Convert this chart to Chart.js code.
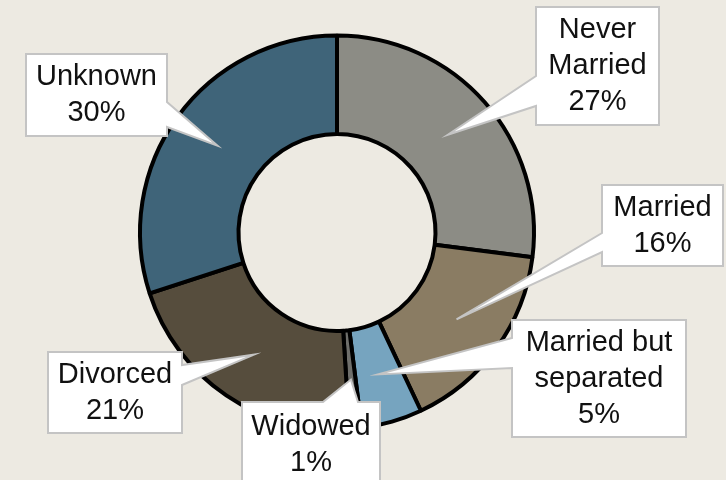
<!DOCTYPE html>
<html>
<head>
<meta charset="utf-8">
<script src="https://cdn.jsdelivr.net/npm/chart.js@4/dist/chart.umd.min.js"></script>
<style>
    html, body { margin: 0; padding: 0; background: #EDEAE2; }
    #wrap { width: 726px; height: 480px; }
</style>
</head>
<body>
<div id="wrap"><canvas id="chart" width="726" height="480"></canvas></div>
<script>
// Marital status breakdown
const categories = ['Never Married', 'Married', 'Married but separated', 'Widowed', 'Divorced', 'Unknown'];
const shares = [27, 16, 5, 1, 21, 30];
const labelLines = [
    ['Never', 'Married', '27%'],
    ['Married', '16%'],
    ['Married but', 'separated', '5%'],
    ['Widowed', '1%'],
    ['Divorced', '21%'],
    ['Unknown', '30%']
];
const sliceColors = ['#8C8C85', '#8A7C63', '#76A4BF', '#6F6F6B', '#564D3D', '#3F6479'];

// callout boxes: [x, y, w, h], side the pointer leaves from, base span along that side
const callouts = [
    { box: [536, 7, 123, 118], side: 'left', base: [76, 106] },
    { box: [602, 185, 121, 81], side: 'left', base: [233, 252] },
    { box: [512, 320, 174, 117], side: 'left', base: [338, 368] },
    { box: [242, 402, 138, 86], side: 'top', base: [323, 358] },
    { box: [48, 352, 134, 81], side: 'right', base: [365, 385] },
    { box: [26, 54, 141, 82], side: 'right', base: [102, 127] }
];

const calloutPlugin = {
    id: 'callouts',
    afterDatasetsDraw(chart) {
        const ctx = chart.ctx;
        const arcs = chart.getDatasetMeta(0).data;
        ctx.save();
        callouts.forEach((c, i) => {
            const tip = arcs[i].tooltipPosition();
            const [x, y, w, h] = c.box;
            const [a, b] = c.base;
            const pts = [];
            pts.push([x, y]);
            if (c.side === 'top') pts.push([a, y], [tip.x, tip.y], [b, y]);
            pts.push([x + w, y]);
            if (c.side === 'right') pts.push([x + w, a], [tip.x, tip.y], [x + w, b]);
            pts.push([x + w, y + h]);
            pts.push([x, y + h]);
            if (c.side === 'left') pts.push([x, b], [tip.x, tip.y], [x, a]);

            ctx.beginPath();
            ctx.moveTo(pts[0][0], pts[0][1]);
            for (let k = 1; k < pts.length; k++) ctx.lineTo(pts[k][0], pts[k][1]);
            ctx.closePath();
            ctx.fillStyle = '#FFFFFF';
            ctx.fill();
            ctx.lineWidth = 2;
            ctx.lineJoin = 'miter';
            ctx.strokeStyle = '#C4C4C4';
            ctx.stroke();

            // text
            const lines = labelLines[i];
            const lh = 36;
            const cx = x + w / 2;
            const cy = y + h / 2;
            ctx.fillStyle = '#111111';
            ctx.font = '29px "Liberation Sans", Arial, sans-serif';
            ctx.textAlign = 'center';
            ctx.textBaseline = 'middle';
            lines.forEach((t, k) => {
                ctx.fillText(t, cx, cy + (k - (lines.length - 1) / 2) * lh);
            });
        });
        ctx.restore();
    }
};

new Chart(document.getElementById('chart'), {
    type: 'doughnut',
    data: {
        labels: categories,
        datasets: [{
            data: shares,
            backgroundColor: sliceColors,
            borderColor: '#000000',
            borderWidth: 4
        }]
    },
    options: {
        responsive: false,
        animation: false,
        cutout: '50%',
        layout: {
            padding: { top: 33, bottom: 48, left: 138, right: 190 }
        },
        plugins: {
            legend: { display: false },
            tooltip: { enabled: false }
        }
    },
    plugins: [calloutPlugin]
});
</script>
</body>
</html>
